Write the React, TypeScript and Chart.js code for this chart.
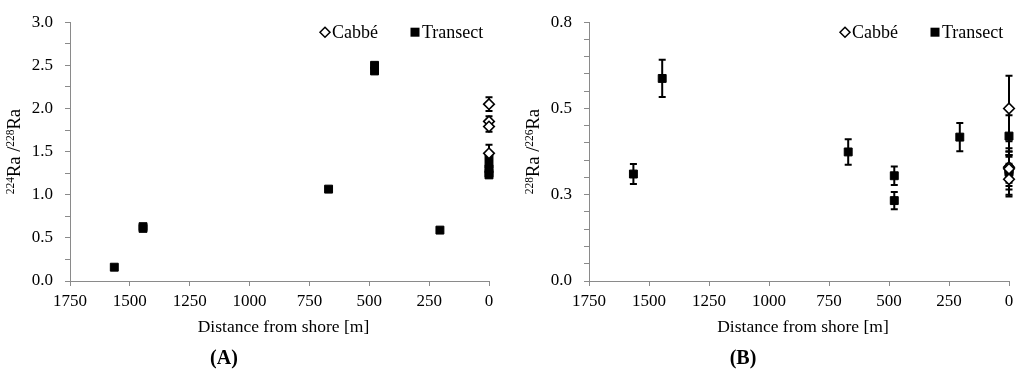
import React, { useEffect, useRef } from 'react';
import { Chart, registerables } from 'chart.js';

Chart.register(...registerables);

// ---------- shared x axis ----------
const xTickValues = [0, 250, 500, 750, 1000, 1250, 1500, 1750];
const xTickLabels = ['0', '250', '500', '750', '1000', '1250', '1500', '1750'];

// ---------- Panel A: 224Ra / 228Ra ----------
const cabbeAx = [0, 0, 0, 0];
const cabbeAy = [2.05, 1.85, 1.79, 1.48];
const cabbeAerr = [0.08, 0.06, 0.06, 0.1];

const transectAx = [1565, 1445, 1445, 670, 478, 478, 205, 0, 0, 0, 0, 0];
const transectAy = [0.16, 0.63, 0.61, 1.065, 2.5, 2.435, 0.59, 1.44, 1.35, 1.3, 1.25, 1.23];
const transectAerr = [0.02, 0.02, 0.02, 0.02, 0.03, 0.03, 0.02, 0.04, 0.03, 0.03, 0.03, 0.03];

const yTickValuesA = [0, 0.25, 0.5, 0.75, 1, 1.25, 1.5, 1.75, 2, 2.25, 2.5, 2.75, 3];
const yTickLabelsA = ['0.0', '', '0.5', '', '1.0', '', '1.5', '', '2.0', '', '2.5', '', '3.0'];

// ---------- Panel B: 228Ra / 226Ra ----------
const cabbeBx = [0, 0, 0, 0];
const cabbeBy = [0.5, 0.33, 0.325, 0.295];
const cabbeBerr = [0.095, 0.035, 0.05, 0.045];

const transectBx = [1565, 1445, 670, 478, 478, 205, 0, 0, 0, 0];
const transectBy = [0.31, 0.587, 0.374, 0.305, 0.233, 0.417, 0.42, 0.325, 0.32, 0.315];
const transectBerr = [0.029, 0.054, 0.037, 0.027, 0.025, 0.041, 0.06, 0.04, 0.055, 0.07];

const yTickValuesB = [0, 0.05, 0.1, 0.15, 0.2, 0.25, 0.3, 0.35, 0.4, 0.45, 0.5, 0.55, 0.6, 0.65, 0.7, 0.75];
const yTickLabelsB = ['0.0', '', '', '', '', '0.3', '', '', '', '', '0.5', '', '', '', '', '0.8'];

const legendLabels = ['Cabbé', 'Transect'];
const xTitle = 'Distance from shore [m]';

const FONT = "'Liberation Serif', 'Times New Roman', serif";
const AXIS_COLOR = '#8a8a8a';

type Panel = {
  cabbeX: number[]; cabbeY: number[]; cabbeErr: number[];
  transX: number[]; transY: number[]; transErr: number[];
  yMax: number; yTicks: number[]; yLabels: string[];
  yTitle: { sup1: string; sup2: string };
  label: string;
  yAxisWidth: number; rightPad: number;
};

const panelA: Panel = {
  cabbeX: cabbeAx, cabbeY: cabbeAy, cabbeErr: cabbeAerr,
  transX: transectAx, transY: transectAy, transErr: transectAerr,
  yMax: 3, yTicks: yTickValuesA, yLabels: yTickLabelsA,
  yTitle: { sup1: '224', sup2: '228' },
  label: '(A)', yAxisWidth: 70, rightPad: 23,
};

const panelB: Panel = {
  cabbeX: cabbeBx, cabbeY: cabbeBy, cabbeErr: cabbeBerr,
  transX: transectBx, transY: transectBy, transErr: transectBerr,
  yMax: 0.75, yTicks: yTickValuesB, yLabels: yTickLabelsB,
  yTitle: { sup1: '228', sup2: '226' },
  label: '(B)', yAxisWidth: 77, rightPad: 15,
};

function makePlugin(p: Panel) {
  return {
    id: 'customDraw',
    beforeDatasetsDraw(chart: any) {
      const { ctx, scales } = chart;
      const xs = scales.x, ys = scales.y;
      ctx.save();
      ctx.strokeStyle = '#000';
      ctx.lineWidth = 2;
      const drawErr = (X: number[], Y: number[], E: number[]) => {
        for (let i = 0; i < X.length; i++) {
          const px = xs.getPixelForValue(X[i]);
          const top = ys.getPixelForValue(Y[i] + E[i]);
          const bot = ys.getPixelForValue(Y[i] - E[i]);
          ctx.beginPath();
          ctx.moveTo(px, top); ctx.lineTo(px, bot);
          ctx.moveTo(px - 3.5, top); ctx.lineTo(px + 3.5, top);
          ctx.moveTo(px - 3.5, bot); ctx.lineTo(px + 3.5, bot);
          ctx.stroke();
        }
      };
      drawErr(p.transX, p.transY, p.transErr);
      drawErr(p.cabbeX, p.cabbeY, p.cabbeErr);
      ctx.restore();
    },
    afterDraw(chart: any) {
      const { ctx, chartArea } = chart;
      const { left, right, top, bottom } = chartArea;
      ctx.save();
      ctx.fillStyle = '#000';
      ctx.textBaseline = 'middle';

      // legend
      const ly = top + 10;
      const dx = right - 164;
      ctx.beginPath();
      ctx.moveTo(dx, ly - 5); ctx.lineTo(dx + 5, ly); ctx.lineTo(dx, ly + 5); ctx.lineTo(dx - 5, ly); ctx.closePath();
      ctx.fillStyle = '#fff'; ctx.fill();
      ctx.strokeStyle = '#000'; ctx.lineWidth = 1.5; ctx.stroke();
      ctx.fillStyle = '#000';
      ctx.font = `18px ${FONT}`;
      ctx.textAlign = 'left';
      ctx.fillText(legendLabels[0], dx + 7, ly + 1);
      const sx = right - 74;
      ctx.fillRect(sx - 4.5, ly - 4.5, 9, 9);
      ctx.fillText(legendLabels[1], sx + 7, ly + 1);

      // x title
      ctx.textAlign = 'center';
      ctx.font = `17.5px ${FONT}`;
      ctx.fillText(xTitle, (left + right) / 2 + 4, 327);

      // panel label
      ctx.font = `bold 20px ${FONT}`;
      ctx.fillText(p.label, left + 154, 359);

      // y title (rotated) with superscripts
      const cx = left - 56;
      const cy = (top + bottom) / 2;
      ctx.translate(cx, cy);
      ctx.rotate(-Math.PI / 2);
      const big = `18.5px ${FONT}`;
      const small = `11.5px ${FONT}`;
      const parts = [
        { t: p.yTitle.sup1, f: small, dy: -6 },
        { t: 'Ra /', f: big, dy: 0 },
        { t: p.yTitle.sup2, f: small, dy: -6 },
        { t: 'Ra', f: big, dy: 0 },
      ];
      let total = 0;
      for (const pt of parts) { ctx.font = pt.f; total += ctx.measureText(pt.t).width; }
      let x = -total / 2;
      ctx.textAlign = 'left';
      ctx.textBaseline = 'alphabetic';
      for (const pt of parts) {
        ctx.font = pt.f;
        ctx.fillText(pt.t, x, 6 + pt.dy);
        x += ctx.measureText(pt.t).width;
      }
      ctx.restore();
    },
  };
}

function ChartPanel({ p }: { p: Panel }) {
  const ref = useRef<HTMLCanvasElement | null>(null);
  useEffect(() => {
    if (!ref.current) return;
    const gridOpts = {
      display: true, drawOnChartArea: false, drawTicks: true, tickLength: 5,
      color: AXIS_COLOR, lineWidth: 1,
    };
    const chart = new Chart(ref.current, {
      type: 'scatter',
      data: {
        datasets: [
          {
            label: legendLabels[0],
            data: p.cabbeX.map((x, i) => ({ x, y: p.cabbeY[i] })),
            pointStyle: 'rectRot', pointRadius: 5.3,
            backgroundColor: '#fff', borderColor: '#000', borderWidth: 1.6,
            clip: false,
          } as any,
          {
            label: legendLabels[1],
            data: p.transX.map((x, i) => ({ x, y: p.transY[i] })),
            pointStyle: 'rect', pointRadius: 5.6,
            backgroundColor: '#000', borderColor: '#000', borderWidth: 1,
            clip: false,
          } as any,
        ],
      },
      options: {
        responsive: false,
        devicePixelRatio: 1,
        animation: false,
        events: [],
        layout: { padding: { top: 21, right: p.rightPad, left: 0, bottom: 0 } },
        plugins: { legend: { display: false }, tooltip: { enabled: false } },
        scales: {
          x: {
            type: 'linear', reverse: true, min: 0, max: 1750,
            afterBuildTicks: (s: any) => { s.ticks = xTickValues.map((v) => ({ value: v })); },
            afterFit: (s: any) => { s.height = 97; },
            ticks: {
              callback: (v: any) => { const i = xTickValues.indexOf(Number(v)); return i >= 0 ? xTickLabels[i] : ''; },
              font: { family: FONT, size: 17 }, color: '#000', padding: 5, maxRotation: 0, autoSkip: false,
            },
            grid: gridOpts,
            border: { display: true, color: AXIS_COLOR, width: 1 },
          },
          y: {
            type: 'linear', min: 0, max: p.yMax,
            afterBuildTicks: (s: any) => { s.ticks = p.yTicks.map((v) => ({ value: v })); },
            afterFit: (s: any) => { s.width = p.yAxisWidth; },
            ticks: {
              callback: (v: any) => {
                const i = p.yTicks.findIndex((t) => Math.abs(t - Number(v)) < 1e-9);
                return i >= 0 ? p.yLabels[i] : '';
              },
              font: { family: FONT, size: 17 }, color: '#000', padding: 12, autoSkip: false,
            },
            grid: gridOpts,
            border: { display: true, color: AXIS_COLOR, width: 1 },
          },
        },
      } as any,
      plugins: [makePlugin(p)],
    });
    return () => chart.destroy();
  }, [p]);
  return <canvas ref={ref} width={512} height={378} style={{ display: 'block', width: 512, height: 378 }} />;
}

export default function App() {
  return (
    <div style={{ position: 'fixed', left: 0, top: 0, width: 1024, height: 378, background: '#fff', display: 'flex' }}>
      <ChartPanel p={panelA} />
      <ChartPanel p={panelB} />
    </div>
  );
}
